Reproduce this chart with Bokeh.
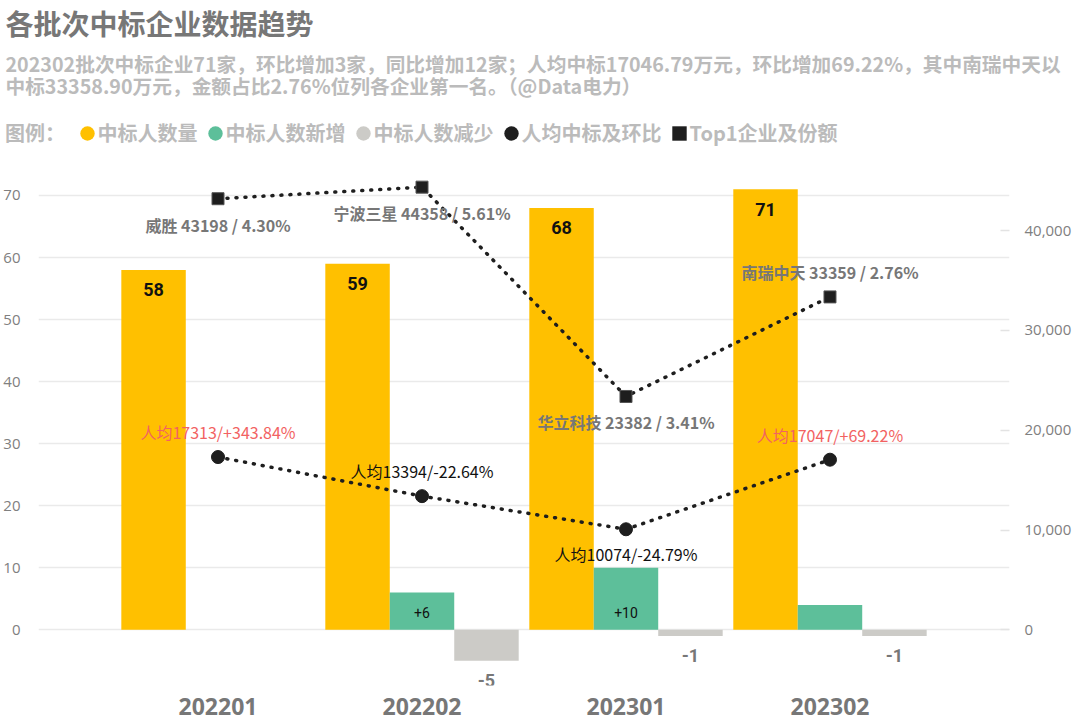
from bokeh.plotting import figure
from bokeh.models import (ColumnDataSource, FactorRange, Range1d, LinearAxis, FixedTicker,
                          NumeralTickFormatter, Legend, LegendItem, Title)
from bokeh.transform import dodge
from bokeh.core.properties import value
from bokeh.embed import file_html
from bokeh.resources import INLINE

# ---------------- data ----------------
batches = ["202201", "202202", "202301", "202302"]
winners = [58, 59, 68, 71]
increase = [0, 6, 10, 4]
decrease = [0, -5, -1, -1]
per_capita = [17313, 13394, 10074, 17047]
per_capita_change = ["+343.84%", "-22.64%", "-24.79%", "+69.22%"]
top1_names = ["威胜", "宁波三星", "华立科技", "南瑞中天"]
top1_amount = [43198, 44358, 23382, 33359]
top1_share = ["4.30%", "5.61%", "3.41%", "2.76%"]
left_ticks = [0, 10, 20, 30, 40, 50, 60, 70]
right_ticks = [0, 10000, 20000, 30000, 40000]

title_text = "各批次中标企业数据趋势"
subtitle_lines = [
    "202302批次中标企业71家，环比增加3家，同比增加12家；人均中标17046.79万元，环比增加69.22%，其中南瑞中天以",
    "中标33358.90万元，金额占比2.76%位列各企业第一名。（@Data电力）",
]
legend_prefix = "图例： "
legend_labels = ["中标人数量", "中标人数新增", "中标人数减少", "人均中标及环比", "Top1企业及份额"]

# ---------------- style / layout ----------------
YELLOW = "#FFC000"
GREEN = "#5DBF9A"
GRAY = "#CCCBC7"
DARK = "#1E1E1E"
RED = "#F26262"
TXT_GRAY = "#777777"
LIGHT = "#BBBBBB"
CJK = "Noto Sans CJK SC"

pc_side = [1, 1, -1, 1]      # 1: label above marker, -1: below
top_side = [-1, -1, -1, 1]
MIN_INC_LABEL = 5

src = ColumnDataSource(dict(
    batch=batches, winners=winners, inc=increase, dec=decrease,
    pc=per_capita, top=top1_amount,
    win_lbl=[str(v) for v in winners],
    inc_lbl=[f"+{v}" if v >= MIN_INC_LABEL else "" for v in increase],
    dec_lbl=[str(v) if v < 0 else "" for v in decrease],
    pc_lbl=[f"人均{v}/{c}" for v, c in zip(per_capita, per_capita_change)],
    pc_color=[RED if c.startswith("+") else "#111111" for c in per_capita_change],
    pc_off=[-25 if s > 0 else 25 for s in pc_side],
    top_lbl=[f"{n} {a} / {s}" for n, a, s in zip(top1_names, top1_amount, top1_share)],
    top_off=[-25 if s > 0 else 26 for s in top_side],
))

# ================= header (title, subtitle, legend) =================
header = figure(width=1076, height=148, x_range=Range1d(0, 1), y_range=Range1d(0, 1),
                x_axis_type=None, y_axis_type=None, output_backend="svg",
                toolbar_location=None, min_border=0,
                background_fill_color="white", border_fill_color="white")
header.outline_line_color = None
header.grid.visible = False

# legend swatches (their points lie outside the header's visible range)
OUT = [5]
sw = dict(width=14, height=14, width_units="screen", height_units="screen", line_color=None)
d0 = header.ellipse(x=OUT, y=OUT, fill_alpha=0, **sw)
d1 = header.ellipse(x=OUT, y=OUT, fill_color=YELLOW, **sw)
d2 = header.ellipse(x=OUT, y=OUT, fill_color=GREEN, **sw)
d3 = header.ellipse(x=OUT, y=OUT, fill_color=GRAY, **sw)
d4 = header.ellipse(x=OUT, y=OUT, fill_color=DARK, **sw)
d5 = header.rect(x=OUT, y=OUT, fill_color=DARK, **sw)
items = [LegendItem(label=legend_prefix, renderers=[d0])] + [
    LegendItem(label=lab, renderers=[r]) for lab, r in zip(legend_labels, [d1, d2, d3, d4, d5])]
legend = Legend(items=items, orientation="horizontal", location=(-15, 1),
                margin=0, padding=0, glyph_width=18, glyph_height=18, label_height=18,
                label_standoff=2, spacing=8,
                background_fill_alpha=0, border_line_color=None,
                label_text_font=CJK, label_text_font_size="20px",
                label_text_font_style="bold", label_text_color=LIGHT)
header.add_layout(legend, "center")

header.add_layout(Title(text="\n".join(subtitle_lines), text_font=CJK, text_font_size="19.7px",
                        text_font_style="bold", text_color=LIGHT, offset=5, standoff=8,
                        text_line_height=0.79, align="left"), "above")
header.add_layout(Title(text=title_text, text_font=CJK, text_font_size="28px",
                        text_font_style="bold", text_color=TXT_GRAY, offset=5, standoff=0,
                        align="left"), "above")

# ================= main chart =================
p = figure(x_range=FactorRange(factors=batches, range_padding=0.19),
           y_range=Range1d(-8.98, 77.57),
           frame_width=971, frame_height=537,
           output_backend="svg", toolbar_location=None,
           min_border_left=31, min_border_right=0, min_border_top=0, min_border_bottom=40,
           background_fill_color="white", border_fill_color="white")
p.extra_y_ranges = {"amt": Range1d(-5580, 48230)}
p.outline_line_color = None

W = 0.316
p.vbar(x=dodge("batch", -W, range=p.x_range), top="winners", width=W, source=src,
       fill_color=YELLOW, line_color=None)
p.vbar(x=dodge("batch", 0, range=p.x_range), top="inc", width=W, source=src,
       fill_color=GREEN, line_color=None)
p.vbar(x=dodge("batch", W, range=p.x_range), top="dec", width=W, source=src,
       fill_color=GRAY, line_color=None)

p.line("batch", "pc", source=src, y_range_name="amt", line_color=DARK, line_width=3.5,
       line_dash="1 8", line_cap="round")
p.scatter("batch", "pc", source=src, y_range_name="amt", marker="circle", size=13,
          fill_color=DARK, line_color=DARK)
p.line("batch", "top", source=src, y_range_name="amt", line_color=DARK, line_width=3.5,
       line_dash="1 8", line_cap="round")
p.scatter("batch", "top", source=src, y_range_name="amt", marker="square", size=12,
          fill_color=DARK, line_color="#555555")

p.text(x=dodge("batch", -W, range=p.x_range), y="winners", text="win_lbl", source=src,
       text_align="center", text_baseline="middle", y_offset=20,
       text_font=value("Roboto"), text_font_style="bold", text_font_size="18px",
       text_color="#111111")
p.text(x=dodge("batch", 0, range=p.x_range), y=0, text="inc_lbl", source=src,
       text_align="center", text_baseline="middle", y_offset=-17,
       text_font=value("Roboto"), text_font_size="14px", text_color="#111111")
p.text(x=dodge("batch", W, range=p.x_range), y="dec", text="dec_lbl", source=src,
       text_align="center", text_baseline="middle", y_offset=20,
       text_font=value("Roboto"), text_font_style="bold", text_font_size="18px",
       text_color=TXT_GRAY)

p.text(x="batch", y="pc", text="pc_lbl", source=src, y_range_name="amt",
       text_align="center", text_baseline="middle", y_offset="pc_off",
       text_font=value(CJK), text_font_size="16px", text_color="pc_color")
p.text(x="batch", y="top", text="top_lbl", source=src, y_range_name="amt",
       text_align="center", text_baseline="middle", y_offset="top_off",
       text_font=value(CJK), text_font_style="bold", text_font_size="16px",
       text_color=TXT_GRAY)

p.xgrid.visible = False
p.ygrid.ticker = FixedTicker(ticks=left_ticks)
p.ygrid.grid_line_color = "#EAEAEA"
p.ygrid.grid_line_width = 1.5

yax = p.yaxis[0]
yax.ticker = FixedTicker(ticks=left_ticks)
yax.axis_line_color = None
yax.major_tick_line_color = None
yax.minor_tick_line_color = None
yax.major_label_text_font = "Open Sans"
yax.major_label_text_font_size = "15px"
yax.major_label_text_color = "#808080"
yax.major_label_standoff = 12

rax = LinearAxis(y_range_name="amt", ticker=FixedTicker(ticks=right_ticks),
                 formatter=NumeralTickFormatter(format="0,0"))
rax.axis_line_color = None
rax.major_tick_in = 9
rax.major_tick_out = 0
rax.major_tick_line_color = "#E3E3E3"
rax.major_tick_line_width = 1.5
rax.minor_tick_line_color = None
rax.major_label_text_font = "Open Sans"
rax.major_label_text_font_size = "15px"
rax.major_label_text_color = "#808080"
rax.major_label_standoff = 15
p.add_layout(rax, "right")

xax = p.xaxis[0]
xax.axis_line_color = None
xax.major_tick_line_color = None
xax.major_label_text_font = "Open Sans"
xax.major_label_text_font_size = "23px"
xax.major_label_text_font_style = "bold"
xax.major_label_text_color = TXT_GRAY
xax.major_label_standoff = 6

with open("out.html", "w", encoding="utf-8") as f:
    f.write(file_html([header, p], INLINE))
